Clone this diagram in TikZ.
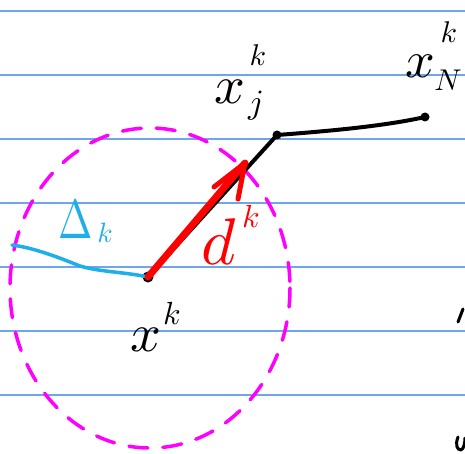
\documentclass[tikz,border=0pt]{standalone}
\usetikzlibrary{arrows.meta}
\definecolor{ruled}{RGB}{110,165,235}
\definecolor{inkmag}{RGB}{255,0,255}
\definecolor{inkcyan}{RGB}{30,175,235}
\definecolor{inkred}{RGB}{255,0,0}
\begin{document}
\begin{tikzpicture}[x=1pt,y=-1pt,
  ruleline/.style={ruled,line width=1.5pt},
  ink/.style={black,line width=4pt,line cap=round,line join=round},
  redink/.style={inkred,line width=7pt,line cap=round,line join=round},
  cyanink/.style={inkcyan,line width=3.5pt,line cap=round,line join=round},
  magdash/.style={inkmag,line width=3.5pt,line cap=round,dash pattern=on 19pt off 15pt},
  dot/.style={circle,fill=black,inner sep=0pt,minimum size=#1},
  lbl/.style={inner sep=0pt,scale=#1}]
\useasboundingbox (0,0) rectangle (465,454);
\fill[white] (0,0) rectangle (465,454);
\foreach \y in {11,75,139,203,267,331,395} \draw[ruleline] (0,\y) -- (465,\y);
% dashed circle
\draw[magdash] (150,288) ellipse [x radius=140, y radius=160];
% points
\node[dot=11pt] (xk) at (148,277) {};
\node[dot=9pt] (xj) at (277,135) {};
\node[dot=9pt] (xN) at (425,117) {};
\coordinate (dtip) at (245,163);
\coordinate (hl) at (214,187);
\coordinate (hr) at (238,199);
\coordinate (bstart) at (12,245);
% connectors
\draw[ink] (xk.center) -- (xj.center);
\draw[ink] (xj.center) .. controls (330,131) and (385,126) .. (xN.center);
\draw[cyanink] (bstart) .. controls (35,248) and (60,258) .. (80,266) .. controls (100,272) and (125,272) .. (xk.center);
\draw[redink] (xk.center) -- (dtip);
\draw[redink,line width=5pt] (hl) -- (dtip) -- (hr);
% stray marks at right edge
\coordinate (m1a) at (458,322);
\coordinate (m1b) at (463,309);
\draw[ink,line width=3pt] (m1a) -- (m1b);
\coordinate (m2a) at (458,437);
\coordinate (m2b) at (461,450);
\draw[ink,line width=3pt] (m2a) .. controls (455,445) and (457,450) .. (m2b) .. controls (464,449) and (465,442) .. (465,438);
% labels
\node[lbl=5.4] (lxk) at (146,340) {$x$};
\node[lbl=3.2] (lxkk) at (172,313) {$k$};
\node[lbl=5.4] (lxj) at (230,92) {$x$};
\node[lbl=3.4] (lxjj) at (256,106) {$j$};
\node[lbl=3.0] (lxjk) at (258,55) {$k$};
\node[lbl=5.2] (lxN) at (420,66) {$x$};
\node[lbl=3.0] (lxNN) at (448,80) {$N$};
\node[lbl=3.0] (lxNk) at (449,32) {$k$};
\node[lbl=6.6, text=inkred] (ld) at (219,242) {$d$};
\node[lbl=3.2, text=inkred] (ldk) at (251,216) {$k$};
\node[lbl=5.5, text=inkcyan, xscale=0.75] (lD) at (76,220) {$\Delta$};
\node[lbl=2.8, text=inkcyan] (lDk) at (105,233) {$k$};
\end{tikzpicture}
\end{document}
